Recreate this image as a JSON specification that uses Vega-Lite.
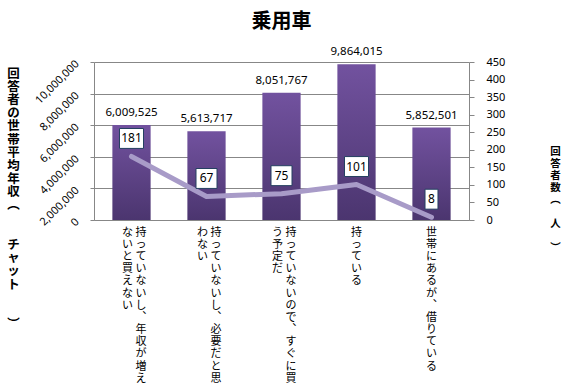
{
  "$schema": "https://vega.github.io/schema/vega-lite/v6.json",
  "width": 375,
  "height": 158,
  "autosize": {"type": "none"},
  "padding": {"left": 94, "top": 62, "right": 98, "bottom": 172},
  "background": "white",
  "title": {
    "text": "乗用車",
    "font": "Noto Sans CJK JP",
    "fontSize": 20,
    "fontWeight": "bold",
    "color": "#000000",
    "anchor": "middle",
    "frame": "group",
    "offset": 14
  },
  "config": {
    "view": {"stroke": null},
    "font": "Noto Sans"
  },
  "data": {
    "values": [
      {"category": "持っていないし、年収が増えないと買えない", "income": 6009525, "count": 181},
      {"category": "持っていないし、必要だと思わない", "income": 5613717, "count": 67},
      {"category": "持っていないので、すぐに買う予定だ", "income": 8051767, "count": 75},
      {"category": "持っている", "income": 9864015, "count": 101},
      {"category": "世帯にあるが、借りている", "income": 5852501, "count": 8}
    ]
  },
  "encoding": {
    "x": {
      "field": "category",
      "type": "nominal",
      "sort": null,
      "scale": {"paddingInner": 0.49, "paddingOuter": 0.245},
      "axis": {
        "title": null,
        "labelAngle": 0,
        "labelAlign": {
          "condition": {"test": "datum.value !== '持っている' && datum.value !== '世帯にあるが、借りている'", "value": "right"},
          "value": "center"
        },
        "labelOffset": {
          "condition": {"test": "datum.value !== '持っている' && datum.value !== '世帯にあるが、借りている'", "value": 15},
          "value": 0
        },
        "labelBaseline": "top",
        "labelPadding": 6,
        "labelFont": "Noto Sans CJK JP",
        "labelFontSize": 11,
        "labelLineHeight": 12.2,
        "labelColor": "#000000",
        "labelLimit": 0,
        "labelOverlap": false,
        "labelBound": false,
        "ticks": false,
        "domainColor": "#878787",
        "labelExpr": "datum.value === '持っていないし、年収が増えないと買えない' ? ['な  持','い  っ','と  て','買  い','え  な','な  い','い  し','︑','年','収','が','増','え'] : datum.value === '持っていないし、必要だと思わない' ? ['わ  持','な  っ','い  て','い','な','い','し','︑','必','要','だ','と','思'] : datum.value === '持っていないので、すぐに買う予定だ' ? ['う  持','予  っ','定  て','だ  い','な','い','の','で','︑','す','ぐ','に','買'] : datum.value === '持っている' ? ['持','っ','て','い','る'] : ['世','帯','に','あ','る','が','︑','借','り','て','い','る']"
      }
    }
  },
  "layer": [
    {
      "encoding": {
        "y": {
          "field": "income",
          "type": "quantitative",
          "scale": {"domain": [0, 10000000], "nice": false},
          "axis": {
            "orient": "left",
            "values": [0, 2000000, 4000000, 6000000, 8000000, 10000000],
            "labelExpr": "format(datum.value, ',')",
            "labelOverlap": false,
            "grid": true,
            "gridColor": "#878787",
            "labelAngle": -45,
            "labelAlign": "right",
            "labelBaseline": "middle",
            "labelPadding": 13,
            "labelFontSize": 11,
            "labelColor": "#000000",
            "domainColor": "#878787",
            "tickColor": "#878787",
            "tickSize": 4,
            "title": ["回","答","者","の","世","帯","平","均","年","収","︵","\u2800","\u2800","チ","ャ","ッ","ト","\u2800","\u2800","︶"],
            "titleAngle": 0,
            "titleX": -81,
            "titleY": 5,
            "titleAlign": "center",
            "titleBaseline": "top",
            "titleLimit": 0,
            "titleFont": "Noto Sans CJK JP",
            "titleFontSize": 12.5,
            "titleFontWeight": "bold",
            "titleLineHeight": 13.2,
            "titleColor": "#000000"
          }
        }
      },
      "layer": [
        {
          "mark": {
            "type": "bar",
            "color": {
              "gradient": "linear",
              "x1": 0, "y1": 0, "x2": 0, "y2": 1,
              "stops": [
                {"offset": 0, "color": "#72529f"},
                {"offset": 1, "color": "#4b356f"}
              ]
            }
          }
        },
        {
          "mark": {"type": "text", "baseline": "bottom", "dy": -7, "fontSize": 11.5, "color": "#000000"},
          "encoding": {"text": {"field": "income", "type": "quantitative", "format": ","}}
        }
      ]
    },
    {
      "encoding": {
        "y": {
          "field": "count",
          "type": "quantitative",
          "scale": {"domain": [0, 450], "nice": false},
          "axis": {
            "orient": "right",
            "values": [0, 50, 100, 150, 200, 250, 300, 350, 400, 450],
            "grid": false,
            "labelFontSize": 11,
            "labelColor": "#000000",
            "labelPadding": 12,
            "domainColor": "#878787",
            "tickColor": "#878787",
            "tickSize": 5,
            "title": ["回","答","者","数","︵","\u2800","人","\u2800","︶"],
            "titleAngle": 0,
            "titleX": 86,
            "titleY": 84,
            "titleAlign": "center",
            "titleBaseline": "top",
            "titleLimit": 0,
            "titleFont": "Noto Sans CJK JP",
            "titleFontSize": 10.5,
            "titleFontWeight": "bold",
            "titleLineHeight": 12,
            "titleColor": "#000000"
          }
        }
      },
      "layer": [
        {
          "mark": {"type": "line", "color": "#a89bc8", "strokeWidth": 5, "strokeCap": "round", "strokeJoin": "round"},
          "encoding": {}
        },
        {
          "mark": {"type": "point", "filled": true, "fill": "white", "stroke": "#254061", "strokeWidth": 1, "opacity": 1, "size": 576, "yOffset": -18},
          "encoding": {
            "shape": {
              "condition": [
                {"test": "datum.count >= 100", "value": "M-1,-0.83H1V0.83H-1Z"},
                {"test": "datum.count >= 10", "value": "M-0.875,-0.83H0.875V0.83H-0.875Z"}
              ],
              "value": "M-0.54,-0.83H0.54V0.83H-0.54Z"
            }
          }
        },
        {
          "mark": {"type": "text", "baseline": "middle", "yOffset": -18, "fontSize": 12, "color": "#000000"},
          "encoding": {"text": {"field": "count", "type": "quantitative"}}
        }
      ]
    }
  ],
  "resolve": {"scale": {"y": "independent"}}
}
